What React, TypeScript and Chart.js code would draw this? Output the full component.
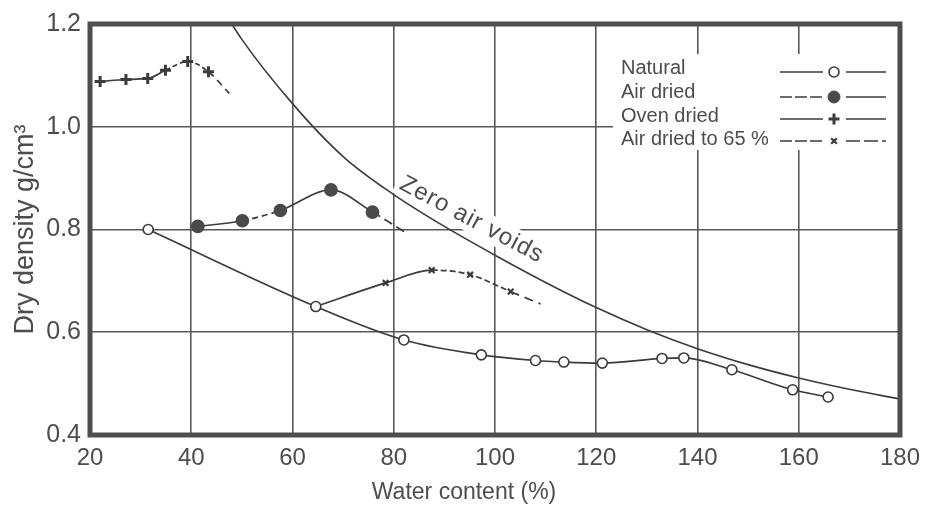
import React, { useEffect, useRef } from 'react';
import { Chart, registerables } from 'chart.js';
import { drawPoint } from 'chart.js/helpers';

Chart.register(...registerables);

// ---------- data ----------
const xTicks = [20, 40, 60, 80, 100, 120, 140, 160, 180];
const yTicks = [0.4, 0.6, 0.8, 1.0, 1.2];

const seriesLabels = ['Natural', 'Air dried', 'Oven dried', 'Air dried to 65 %'];
const zavLabel = 'Zero air voids';

const naturalX = [31.5, 64.6, 82.0, 97.3, 108.0, 113.6, 121.2, 133.0, 137.3, 146.8, 158.8, 165.8];
const naturalY = [0.8, 0.65, 0.585, 0.556, 0.545, 0.542, 0.54, 0.549, 0.55, 0.527, 0.488, 0.474];

const airDriedX = [41.3, 50.1, 57.6, 67.6, 75.8, 82.5];
const airDriedY = [0.806, 0.817, 0.837, 0.877, 0.834, 0.793];

const ovenDriedX = [22.0, 27.1, 31.4, 34.9, 39.3, 43.4, 47.5];
const ovenDriedY = [1.088, 1.092, 1.094, 1.11, 1.127, 1.107, 1.065];

const air65X = [64.6, 78.4, 87.5, 95.1, 103.1, 109.0];
const air65Y = [0.65, 0.696, 0.721, 0.712, 0.679, 0.655];

const zavX = [40, 50, 60, 70, 80, 90, 100, 110, 120, 130, 140, 150, 160, 170, 180];
const zavY = [1.33, 1.17, 1.045, 0.942, 0.868, 0.806, 0.75, 0.697, 0.648, 0.605, 0.568, 0.537, 0.511, 0.489, 0.47];

// position of the "Zero air voids" label in data units
const zavLabelAt = [95.4, 0.819];

// ---------- styles ----------
const INK = '#3b3b3b';
const TEXT = '#4d4d4d';
const GRID = '#585858';
const FONT = "'Liberation Sans', Arial, Helvetica, sans-serif";

const pts = (xs: number[], ys: number[]) => xs.map((x, i) => ({ x, y: ys[i] }));

const markerStyles = [
  { pointStyle: 'circle', radius: 5, fill: '#ffffff', stroke: INK, borderWidth: 1.6 },
  { pointStyle: 'circle', radius: 6, fill: '#4a4a4a', stroke: '#4a4a4a', borderWidth: 1 },
  { pointStyle: 'cross', radius: 5.5, fill: INK, stroke: INK, borderWidth: 3 },
  { pointStyle: 'crossRot', radius: 4, fill: INK, stroke: INK, borderWidth: 2.2 },
];

const ZAV_FONT = `24px ${FONT}`;
const ZAV_SPACING = '1px';
const ZAV_ANGLE = (28 * Math.PI) / 180;

const decorPlugin = {
  id: 'decor',
  beforeDatasetsDraw(chart: any) {
    const { ctx, scales } = chart;
    ctx.save();
    ctx.fillStyle = '#ffffff';
    // legend background
    ctx.fillRect(613, 54, 285, 96);
    // zero-air-voids label background
    const px = scales.x.getPixelForValue(zavLabelAt[0]);
    const py = scales.y.getPixelForValue(zavLabelAt[1]);
    ctx.translate(px, py);
    ctx.rotate(ZAV_ANGLE);
    ctx.font = ZAV_FONT;
    (ctx as any).letterSpacing = ZAV_SPACING;
    const w = ctx.measureText(zavLabel).width;
    ctx.fillRect(-w / 2 - 4, -14, w + 8, 27);
    ctx.restore();
  },
  afterDatasetsDraw(chart: any) {
    const { ctx, scales } = chart;
    // zero air voids label
    ctx.save();
    const px = scales.x.getPixelForValue(zavLabelAt[0]);
    const py = scales.y.getPixelForValue(zavLabelAt[1]);
    ctx.translate(px, py);
    ctx.rotate(ZAV_ANGLE);
    ctx.font = ZAV_FONT;
    (ctx as any).letterSpacing = ZAV_SPACING;
    ctx.fillStyle = TEXT;
    ctx.textAlign = 'center';
    ctx.textBaseline = 'middle';
    ctx.fillText(zavLabel, 0, 0);
    ctx.restore();

    // legend
    ctx.save();
    const rows = [68, 92, 116, 139];
    const sampleRows = [72, 97, 119, 141];
    ctx.font = `20px ${FONT}`;
    ctx.textAlign = 'left';
    ctx.textBaseline = 'middle';
    seriesLabels.forEach((lab, i) => {
      ctx.fillStyle = TEXT;
      ctx.fillText(lab, 621, rows[i]);
      const y = sampleRows[i];
      ctx.strokeStyle = INK;
      ctx.lineWidth = 1.6;
      ctx.setLineDash(i === 1 || i === 3 ? [12, 3] : []);
      ctx.beginPath();
      ctx.moveTo(780, y);
      ctx.lineTo(823, y);
      ctx.stroke();
      ctx.setLineDash(i === 3 ? [14, 4] : []);
      ctx.beginPath();
      ctx.moveTo(846, y);
      ctx.lineTo(886, y);
      ctx.stroke();
      ctx.setLineDash([]);
      const m = markerStyles[i];
      ctx.fillStyle = m.fill;
      ctx.strokeStyle = m.stroke;
      ctx.lineWidth = m.borderWidth;
      drawPoint(ctx, { pointStyle: m.pointStyle as any, radius: m.radius, rotation: 0, borderWidth: m.borderWidth }, 834, y);
    });
    ctx.restore();
  },
  afterDraw(chart: any) {
    const { ctx, chartArea: a } = chart;
    ctx.save();
    ctx.strokeStyle = '#4e4e4e';
    ctx.lineWidth = 5;
    ctx.strokeRect(a.left, a.top, a.right - a.left, a.bottom - a.top);
    // x axis title
    ctx.font = `23px ${FONT}`;
    ctx.fillStyle = TEXT;
    ctx.textAlign = 'center';
    ctx.textBaseline = 'middle';
    ctx.fillText('Water content (%)', 464, 493);
    ctx.restore();
  },
};

export default function App() {
  const ref = useRef<HTMLCanvasElement | null>(null);

  useEffect(() => {
    if (!ref.current) return;
    const line = { borderColor: INK, borderWidth: 1.7, tension: 0.35, cubicInterpolationMode: 'monotone' as const };
    const chart = new Chart(ref.current, {
      type: 'line',
      data: {
        datasets: [
          {
            label: zavLabel,
            data: pts(zavX, zavY),
            borderColor: INK,
            borderWidth: 1.6,
            pointRadius: 0,
            tension: 0.4,
            cubicInterpolationMode: 'monotone',
          },
          {
            label: seriesLabels[0],
            data: pts(naturalX, naturalY),
            ...line,
            tension: 0.25,
            pointStyle: 'circle',
            pointRadius: 5,
            pointBackgroundColor: '#ffffff',
            pointBorderColor: INK,
            pointBorderWidth: 1.6,
          },
          {
            label: seriesLabels[1],
            data: pts(airDriedX, airDriedY),
            ...line,
            pointStyle: 'circle',
            pointRadius: airDriedX.map((_, i) => (i === airDriedX.length - 1 ? 0 : 6)),
            pointBackgroundColor: '#4a4a4a',
            pointBorderColor: '#4a4a4a',
            segment: {
              borderDash: (c: any) => (c.p0DataIndex === 1 ? [6, 4] : c.p0DataIndex === 4 ? [9, 5] : undefined),
            },
          },
          {
            label: seriesLabels[2],
            data: pts(ovenDriedX, ovenDriedY),
            ...line,
            pointStyle: 'cross',
            pointRadius: ovenDriedX.map((_, i) => (i === ovenDriedX.length - 1 ? 0 : 5.5)),
            pointBorderColor: INK,
            pointBorderWidth: 3,
            segment: {
              borderDash: (c: any) => (c.p0DataIndex >= 5 ? [7, 5] : c.p0DataIndex >= 3 ? [5, 3] : undefined),
            },
          },
          {
            label: seriesLabels[3],
            data: pts(air65X, air65Y),
            ...line,
            pointStyle: 'crossRot',
            pointRadius: air65X.map((_, i) => (i === 0 || i === air65X.length - 1 ? 0 : 4)),
            pointBorderColor: INK,
            pointBorderWidth: 2.2,
            segment: {
              borderDash: (c: any) => (c.p0DataIndex >= 4 ? [9, 6] : c.p0DataIndex >= 2 ? [6, 3] : undefined),
            },
          },
        ],
      },
      options: {
        responsive: false,
        devicePixelRatio: 1,
        animation: false,
        layout: { padding: { top: 24, right: 24, left: 0, bottom: 0 } },
        plugins: { legend: { display: false }, tooltip: { enabled: false } },
        scales: {
          x: {
            type: 'linear',
            min: xTicks[0],
            max: xTicks[xTicks.length - 1],
            afterBuildTicks: (s: any) => {
              s.ticks = xTicks.map((v) => ({ value: v }));
            },
            afterFit: (s: any) => {
              s.height = 72;
            },
            grid: { color: GRID, lineWidth: 1.6, drawTicks: false },
            border: { display: false },
            ticks: {
              autoSkip: false,
              maxRotation: 0,
              padding: 9,
              color: TEXT,
              font: { family: FONT, size: 24 },
            },
          },
          y: {
            type: 'linear',
            min: yTicks[0],
            max: yTicks[yTicks.length - 1],
            afterBuildTicks: (s: any) => {
              s.ticks = yTicks.map((v) => ({ value: v }));
            },
            afterFit: (s: any) => {
              s.width = 90;
            },
            grid: { color: GRID, lineWidth: 1.6, drawTicks: false },
            border: { display: false },
            ticks: {
              padding: 9,
              color: TEXT,
              font: { family: FONT, size: 25 },
              callback: (v: any) => Number(v).toFixed(1),
            },
            title: {
              display: true,
              text: 'Dry density g/cm³',
              color: TEXT,
              font: { family: FONT, size: 27 },
              padding: { top: 9, bottom: 0 },
            },
          },
        },
      },
      plugins: [decorPlugin],
    });
    return () => chart.destroy();
  }, []);

  return (
    <div style={{ position: 'absolute', left: 0, top: 0, width: 929, height: 507, background: '#fff' }}>
      <canvas ref={ref} width={929} height={507} style={{ display: 'block' }} />
    </div>
  );
}
